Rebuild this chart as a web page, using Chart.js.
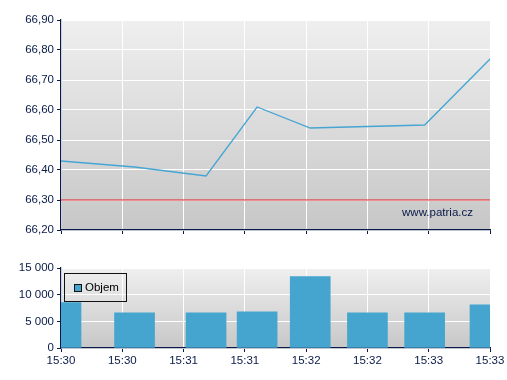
<!DOCTYPE html>
<html>
<head>
<meta charset="utf-8">
<script src="https://cdn.jsdelivr.net/npm/chart.js@4.4.0/dist/chart.umd.min.js"></script>
<style>
  body { margin: 0; background: #fff; }
  #wrap { position: relative; width: 507px; height: 380px; }
  #priceChart { position: absolute; left: 0; top: 0; }
  #volChart { position: absolute; left: 0; top: 245px; }
  #legend {
    position: absolute; left: 64px; top: 273px; width: 61px; height: 27px;
    border: 1px solid #111; font: 11.5px "Liberation Sans", Arial, sans-serif; color: #000;
  }
  #legend .sw {
    position: absolute; left: 9px; top: 10px; width: 6px; height: 6px;
    background: #45a5ce; border: 1px solid #111;
  }
  #legend .lb { position: absolute; left: 20px; top: 7px; }
</style>
</head>
<body>
<div id="wrap">
  <canvas id="priceChart" width="507" height="245"></canvas>
  <canvas id="volChart" width="507" height="135"></canvas>
  <div id="legend"><span class="sw"></span><span class="lb">Objem</span></div>
</div>
<script>
// cas obchodu (sekundy od 15:30:00)
const tradeTimes = [0, 36, 71, 96, 122, 150, 178, 210];
const prices = [66.43, 66.41, 66.38, 66.61, 66.54, 66.545, 66.55, 66.77];
const volumes = [8500, 6600, 6600, 6800, 13400, 6600, 6600, 8100];
const refPrice = 66.30;           // cervena cara
const priceMin = 66.20, priceMax = 66.90, priceStep = 0.10;
const volMin = 0, volMax = 15000, volStep = 5000;
const timeMin = 0, timeMax = 210, timeStep = 30;

const NAVY = '#081a48';
const FONT = { family: '"Liberation Sans", Arial, sans-serif', size: 11.5 };

function fmtTime(v) {
  const m = 30 + Math.floor(v / 60);
  return '15:' + String(m).padStart(2, '0');
}
function fmtPrice(v) { return v.toFixed(2).replace('.', ','); }
function fmtVol(v) { return String(Math.round(v)).replace(/\B(?=(\d{3})+(?!\d))/g, ' '); }

// sedy gradient pod grafem
const bgPlugin = {
  id: 'bg',
  beforeDraw(chart) {
    const a = chart.chartArea, ctx = chart.ctx;
    const g = ctx.createLinearGradient(0, a.top, 0, a.bottom);
    g.addColorStop(0, '#efefef');
    g.addColorStop(1, '#c7c7c7');
    ctx.save();
    ctx.fillStyle = g;
    ctx.fillRect(a.left, a.top, a.right - a.left, a.bottom - a.top);
    ctx.restore();
  }
};

const watermark = {
  id: 'watermark',
  afterDraw(chart) {
    const ctx = chart.ctx;
    ctx.save();
    ctx.font = '11.5px "Liberation Sans", Arial, sans-serif';
    ctx.fillStyle = NAVY;
    ctx.textAlign = 'right';
    ctx.textBaseline = 'alphabetic';
    ctx.fillText('www.patria.cz', chart.chartArea.right - 17, chart.chartArea.bottom - 14);
    ctx.restore();
  }
};

function xAxis(showLabels, height) {
  return {
    type: 'linear', min: timeMin, max: timeMax, offset: false,
    grid: { color: '#ffffff', lineWidth: 1, tickColor: NAVY, tickLength: 4, offset: false },
    border: { color: NAVY, width: 1.2 },
    ticks: { display: showLabels, stepSize: timeStep, color: NAVY, font: FONT, padding: 2,
             maxRotation: 0, autoSkip: false, callback: fmtTime },
    afterFit(s) { s.height = height; }
  };
}
function yAxis(min, max, step, fmt) {
  return {
    min: min, max: max,
    grid: { color: '#ffffff', lineWidth: 1, tickColor: NAVY, tickLength: 4 },
    border: { color: NAVY, width: 1.2 },
    ticks: { stepSize: step, color: NAVY, font: FONT, padding: 3, callback: fmt },
    afterFit(s) { s.width = 61; }
  };
}

new Chart(document.getElementById('priceChart'), {
  type: 'line',
  data: {
    datasets: [
      {
        data: [{ x: timeMin, y: refPrice }, { x: timeMax, y: refPrice }],
        borderColor: '#e41f1f', borderWidth: 1.2, pointRadius: 0
      },
      {
        data: tradeTimes.map((t, i) => ({ x: t, y: prices[i] })),
        borderColor: '#45a5d3', borderWidth: 1.3, pointRadius: 0, tension: 0
      }
    ]
  },
  options: {
    responsive: false, animation: false,
    layout: { padding: { left: 0, top: 20, right: 17, bottom: 0 } },
    plugins: { legend: { display: false }, tooltip: { enabled: false } },
    scales: {
      x: xAxis(false, 15),
      y: yAxis(priceMin, priceMax, priceStep, fmtPrice)
    }
  },
  plugins: [bgPlugin, watermark]
});

new Chart(document.getElementById('volChart'), {
  type: 'bar',
  data: {
    datasets: [{
      label: 'Objem',
      data: tradeTimes.map((t, i) => ({ x: t, y: volumes[i] })),
      backgroundColor: '#45a5ce', borderWidth: 0, barThickness: 40, clip: 0
    }]
  },
  options: {
    responsive: false, animation: false,
    layout: { padding: { left: 0, top: 23, right: 17, bottom: 0 } },
    plugins: { legend: { display: false }, tooltip: { enabled: false } },
    scales: {
      x: xAxis(true, 32),
      y: yAxis(volMin, volMax, volStep, fmtVol)
    }
  },
  plugins: [bgPlugin]
});
</script>
</body>
</html>
